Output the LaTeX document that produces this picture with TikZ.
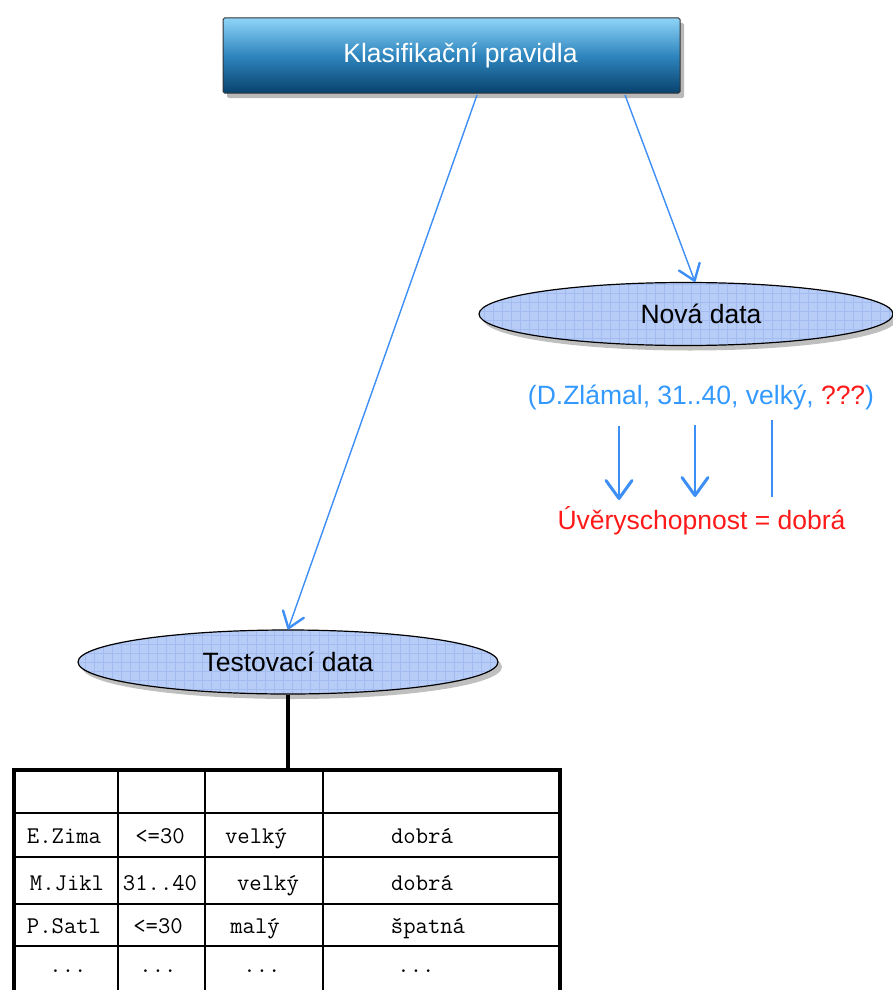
\documentclass[tikz,border=0pt]{standalone}
\usepackage{fontspec}
\setmainfont{Liberation Sans}
\usetikzlibrary{shapes.geometric,arrows.meta,shadows,calc}
\definecolor{boxtop}{HTML}{8FD4F8}
\definecolor{boxmid}{HTML}{2F86BE}
\definecolor{boxbot}{HTML}{08426E}
\definecolor{ellfill}{HTML}{B7CCF7}
\definecolor{ellgrid}{HTML}{A3BCF0}
\definecolor{arrblue}{HTML}{3D8EF5}
\definecolor{txtblue}{HTML}{3399FF}
\definecolor{txtred}{HTML}{FF1A1A}
\begin{document}
\begin{tikzpicture}[x=1pt,y=-1pt,
  sansbig/.style={font=\fontsize{26.5}{30}\selectfont},
  titlebox/.style={sansbig, draw=black!80, line width=1pt, rounded corners=1.5pt,
    minimum width=457pt, minimum height=75pt, inner sep=0pt,
    top color=boxtop, bottom color=boxbot, middle color=boxmid, text=white,
    drop shadow={shadow xshift=4pt, shadow yshift=-5pt, opacity=.55}},
  dataell/.style={sansbig, ellipse, draw=black, line width=1.2pt, fill=ellfill, inner sep=0pt,
    drop shadow={shadow xshift=4pt, shadow yshift=-5pt, opacity=.5},
    path picture={\draw[ellgrid, line width=0.8pt, xstep=9pt, ystep=9pt]
      (path picture bounding box.south west) grid (path picture bounding box.north east);}},
  diagarr/.style={draw=arrblue, line width=1.4pt,
    -{Straight Barb[length=15pt,width=22pt,line width=2.4pt,round]}},
  vertarr/.style={draw=arrblue, line width=2pt,
    -{Straight Barb[length=18pt,width=26pt,line width=3pt,round]}},
  vertline/.style={draw=arrblue, line width=2pt},
  cell/.style={font=\ttfamily\fontsize{24}{26}\selectfont, inner sep=0pt, anchor=base},
  thickline/.style={line width=4pt, draw=black},
  thinline/.style={line width=1.5pt, draw=black}]
\useasboundingbox (0,0) rectangle (893,990);

% top box
\node[titlebox] (rules) at (451.5,55.5) {\hspace*{18pt}Klasifikační pravidla};

% ellipses
\node[dataell, minimum width=414pt, minimum height=63pt] (ndata) at (686,314)
  {\hspace*{30pt}\raisebox{-3pt}{Nová data}};
\node[dataell, minimum width=420pt, minimum height=64pt] (tdata) at (288,662) {Testovací data};

% diagonal arrows
\coordinate (s1) at (477,95);
\coordinate (s2) at (625,95);
\draw[diagarr] (s1) -- (tdata.north);
\draw[diagarr] (s2) -- ([xshift=9pt]ndata.north);

% new data tuple
\node[sansbig, text=txtblue] (tuple) at (701,397)
  {(D.Zlámal, 31..40, velký, \textcolor{txtred}{???})};
\node[sansbig, text=txtred] (result) at (701.5,521) {Úvěryschopnost = dobrá};
\coordinate (v1s) at (619,426); \coordinate (v1e) at (619,500);
\coordinate (v2s) at (695,425); \coordinate (v2e) at (695,497);
\coordinate (v3s) at (772,420); \coordinate (v3e) at (772,497);
\draw[vertarr] (v1s) -- (v1e);
\draw[vertarr] (v2s) -- (v2e);
\draw[vertline] (v3s) -- (v3e);

% connector to table
\coordinate (tbltop) at (288,770);
\draw[thickline] (tdata.south) -- (tbltop);

% table
\foreach \yy in {813,857,904,946} \draw[thinline] (14,\yy) -- (560,\yy);
\foreach \xx in {118,205,323} \draw[thinline] (\xx,770) -- (\xx,995);
\draw[thickline] (14,995) -- (14,770) -- (560,770) -- (560,995);

\node[cell] (c11) at (64,843) {E.Zima};
\node[cell] (c12) at (160,843) {<=30};
\node[cell] (c13) at (256,843) {velký};
\node[cell] (c14) at (422,843) {dobrá};
\node[cell] (c21) at (67,890) {M.Jikl};
\node[cell] (c22) at (160,890) {31..40};
\node[cell] (c23) at (268,890) {velký};
\node[cell] (c24) at (422,890) {dobrá};
\node[cell] (c31) at (64,933) {P.Satl};
\node[cell] (c32) at (158,933) {<=30};
\node[cell] (c33) at (255,933) {malý};
\node[cell] (c34) at (428,933) {špatná};
\node[cell] (c41) at (68,972) {...};
\node[cell] (c42) at (158,972) {...};
\node[cell] (c43) at (262,972) {...};
\node[cell] (c44) at (416,972) {...};
\end{tikzpicture}
\end{document}
